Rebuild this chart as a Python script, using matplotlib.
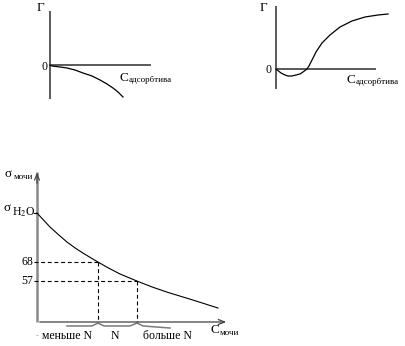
import matplotlib
matplotlib.use('Agg')
import matplotlib.pyplot as plt

plt.rcParams['font.family'] = ['Liberation Serif', 'DejaVu Serif']
plt.rcParams['mathtext.fontset'] = 'stix'

# adsorption of a surface-inactive substance (left) and of a mixed case (right)
c_left = [0, 2, 10, 17, 25, 33, 42, 50, 57, 63, 68, 73]
g_left = [0, -1, -2, -3, -5, -8, -11, -15, -19, -23, -27, -32]

c_right = [0, 5, 9, 12, 16, 20, 24, 27, 31, 33, 35, 40, 46, 54, 64, 76, 89, 102, 112]
g_right = [0, -4, -6, -7, -7, -6, -5, -3, 0, 3, 7, 17, 26, 34, 42, 48, 52, 54, 55]

# surface tension of urine vs concentration
c_urine = [0, 13, 22, 30, 38, 46, 54, 61, 72, 83, 100, 115, 130, 156, 181]
sigma_urine = [96.4, 88.3, 83.6, 79.6, 76.2, 73.2, 70.4, 68, 64.4, 61.1, 57,
               53.6, 50.6, 46.0, 41.4]
sigma_levels = [68, 57]
c_levels = [61, 100]
level_labels = ['68', '57']
zone_labels = ['меньше N', 'N', 'больше N']
zone_pos = [29.5, 78, 130.5]

W, H = 405, 346
fig = plt.figure(figsize=(W / 100, H / 100), dpi=100)


def box(x0, y0, x1, y1):
    return fig.add_axes([x0 / W, 1 - y1 / H, (x1 - x0) / W, (y1 - y0) / H])


axis_col = '#5a5a5a'
fs = 8.5
sub = 6.5


def adsorption_panel(ax, c, g, top, bottom, xlen, lab):
    ax.plot([0, 0], [bottom, top], color=axis_col, lw=1.4)
    ax.plot([0, xlen], [0, 0], color=axis_col, lw=1.4)
    ax.plot(c, g, color='black', lw=0.9)
    ax.text(lab['gx'], lab['gy'], 'Γ', fontsize=9.5, ha='center', va='center')
    ax.text(lab['zx'], lab['zy'], '0', fontsize=fs, ha='center', va='center')
    ax.text(lab['cx'], lab['cy'], 'C', fontsize=9.5, ha='center', va='center')
    ax.text(lab['cx'] + 5, lab['cy'] - 2, 'адсорбтива', fontsize=sub,
            ha='left', va='center')
    ax.axis('off')


ax1 = box(0, 0, 200, 115)
ax1.set_xlim(-50, 150)
ax1.set_ylim(-50, 65)
adsorption_panel(ax1, c_left, g_left, 53, -33, 100,
                 dict(gx=-10, gy=57, zx=-5, zy=-2, cx=74, cy=-13))

ax2 = box(200, 0, 405, 115)
ax2.set_xlim(-76, 129)
ax2.set_ylim(-46, 69)
adsorption_panel(ax2, c_right, g_right, 62, -19, 99,
                 dict(gx=-13, gy=61, zx=-8, zy=-1, cx=75, cy=-11))

# bottom chart
ax3 = box(0, 160, 260, 346)
ax3.set_xlim(-37, 223)
ax3.set_ylim(19.4, 127.1)
ax3.axis('off')
base = 33.3
ax3.plot([0, 0], [base, 120], color='#8a8a8a', lw=1.8, solid_capstyle='butt')
ax3.annotate('', xy=(0, 121.5), xytext=(0, 112),
             arrowprops=dict(arrowstyle='->,head_length=0.45,head_width=0.18',
                             color='#404040', lw=0.8))
ax3.annotate('', xy=(192, base), xytext=(0, base),
             arrowprops=dict(arrowstyle='->,head_length=0.45,head_width=0.18',
                             color='#404040', lw=0.9))
ax3.plot(c_urine, sigma_urine, color='black', lw=0.8)

for cv, sv, lab in zip(c_levels, sigma_levels, level_labels):
    ax3.plot([-3, cv], [sv, sv], color='black', lw=0.8, ls=(0, (3.5, 2.5)))
    ax3.plot([cv, cv], [sv, base], color='black', lw=0.8, ls=(0, (3.5, 2.5)))
    ax3.text(-4, sv, lab, fontsize=fs, ha='right', va='center')

ax3.plot([-3, 0], [sigma_urine[0], sigma_urine[0]], color='black', lw=0.8)

# braces under the x axis
brace_c = [30, 55, 61, 67, 93, 100, 106, 133]
brace_s = [31.0, 31.0, 32.7, 31.0, 31.0, 32.7, 31.0, 29.8]
ax3.plot(brace_c, brace_s, color='#7a7a7a', lw=1.1)

for x, t in zip(zone_pos, zone_labels):
    ax3.text(x, 25.2, t, fontsize=fs, ha='center', va='center')
ax3.text(0, 25.2, '-', fontsize=6, color='#999999', ha='center', va='center')

ax3.text(-28.5, 118.8, 'σ', fontsize=9.5, ha='center', va='center')
ax3.text(-23.5, 117.2, 'мочи', fontsize=sub, ha='left', va='center')
ax3.text(-29.5, 99.5, 'σ', fontsize=9.5, ha='center', va='center')
ax3.text(-25, 96.8, r'H$_2$O', fontsize=8.5, ha='left', va='center')
ax3.text(178, 28.6, 'C', fontsize=9.5, ha='center', va='center')
ax3.text(183, 26.9, 'мочи', fontsize=sub, ha='left', va='center')

fig.savefig('out.png', dpi=100)
